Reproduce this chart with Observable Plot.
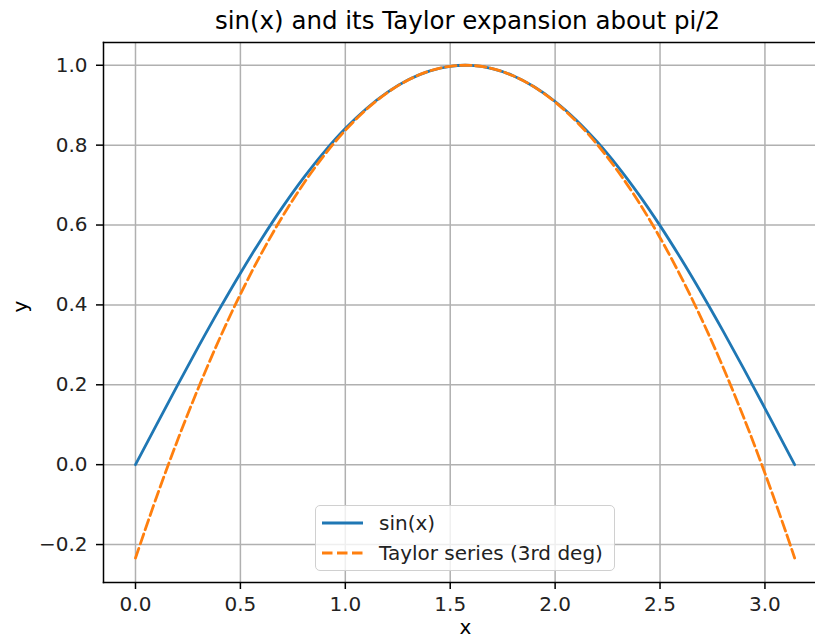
<!DOCTYPE html>
<html>
<head>
<meta charset="utf-8">
<script src="https://cdn.jsdelivr.net/npm/d3@7"></script>
<script src="https://cdn.jsdelivr.net/npm/@observablehq/plot@0.6"></script>
<style>
  html, body { margin: 0; padding: 0; background: #fff; overflow: hidden; }
  #wrap { position: relative; width: 815px; height: 640px; font-family: "DejaVu Sans", sans-serif; }
  #legend {
    position: absolute; left: 315px; top: 505px; width: 300px; height: 66px; box-sizing: border-box;
    background: rgba(255,255,255,0.8); border: 1px solid #d0d0d0; border-radius: 5px;
    font-size: 20px; color: #222;
  }
  .row { position: absolute; left: 0; height: 26px; display: flex; align-items: center; white-space: nowrap; }
  .row svg { margin-left: 6px; margin-right: 16px; }
</style>
</head>
<body>
<div id="wrap"></div>
<script>
const title = "sin(x) and its Taylor expansion about pi/2";
const xLabel = "x";
const yLabel = "y";
const seriesNames = ["sin(x)", "Taylor series (3rd deg)"];
const seriesColors = ["#1f77b4", "#ff7f0e"];
const xTicks = [0.0, 0.5, 1.0, 1.5, 2.0, 2.5, 3.0];
const yTicks = [-0.2, 0.0, 0.2, 0.4, 0.6, 0.8, 1.0];

const xs = [0.0, 0.1, 0.2, 0.3, 0.4, 0.5, 0.6, 0.7, 0.8, 0.9, 1.0, 1.1, 1.2, 1.3, 1.4, 1.5, 1.6,
            1.7, 1.8, 1.9, 2.0, 2.1, 2.2, 2.3, 2.4, 2.5, 2.6, 2.7, 2.8, 2.9, 3.0, 3.1, 3.1416];
const sinY = [0.0, 0.0998, 0.1987, 0.2955, 0.3894, 0.4794, 0.5646, 0.6442, 0.7174, 0.7833, 0.8415,
              0.8912, 0.9320, 0.9636, 0.9854, 0.9975, 0.9996, 0.9917, 0.9738, 0.9463, 0.9093,
              0.8632, 0.8085, 0.7457, 0.6755, 0.5985, 0.5155, 0.4274, 0.3350, 0.2392, 0.1411,
              0.0416, 0.0];
const taylorY = [-0.2337, -0.0816, 0.0605, 0.1925, 0.3146, 0.4267, 0.5288, 0.6209, 0.7029, 0.7750,
                 0.8371, 0.8892, 0.9313, 0.9633, 0.9854, 0.9975, 0.9996, 0.9917, 0.9737, 0.9458,
                 0.9079, 0.8600, 0.8021, 0.7341, 0.6562, 0.5683, 0.4704, 0.3625, 0.2445, 0.1166,
                 -0.0213, -0.1692, -0.2337];

const sinData = xs.map((x, i) => ({x, y: sinY[i]}));
const taylorData = xs.map((x, i) => ({x, y: taylorY[i]}));
const fmt = d => d.toFixed(1).replace("-", "\u2212");

const grid = {stroke: "#b0b0b0", strokeOpacity: 1, strokeWidth: 1.5};
const chart = Plot.plot({
  width: 815,
  height: 640,
  marginLeft: 103,
  marginRight: 0,
  marginTop: 42,
  marginBottom: 58,
  style: {fontFamily: "DejaVu Sans, sans-serif", fontSize: "20px", color: "#222", background: "#fff"},
  x: {domain: [-0.1525, 3.241], ticks: xTicks},
  y: {domain: [-0.295, 1.057], ticks: yTicks},
  marks: [
    Plot.gridX(xTicks, grid),
    Plot.gridY(yTicks, grid),
    Plot.line(sinData, {x: "x", y: "y", stroke: seriesColors[0], strokeWidth: 2.8, curve: "catmull-rom"}),
    Plot.line(taylorData, {x: "x", y: "y", stroke: seriesColors[1], strokeWidth: 2.8, strokeDasharray: "10.5,4.5", curve: "catmull-rom"}),
    Plot.axisX(xTicks, {tickSize: 7, tickPadding: 7, tickFormat: fmt, label: null, fontSize: 20, strokeWidth: 1.5, stroke: "#000"}),
    Plot.axisY(yTicks, {tickSize: 7, tickPadding: 9, tickFormat: fmt, label: null, fontSize: 20, strokeWidth: 1.5, stroke: "#000"}),
    Plot.frame({anchor: "left", stroke: "#000", strokeWidth: 1.5}),
    Plot.frame({anchor: "top", stroke: "#000", strokeWidth: 1.5}),
    Plot.frame({anchor: "bottom", stroke: "#000", strokeWidth: 1.5}),
    Plot.text([title], {frameAnchor: "top", lineAnchor: "middle", dx: 8, dy: -21, fontSize: 24.5, fill: "#000"}),
    Plot.text([xLabel], {frameAnchor: "bottom", lineAnchor: "middle", dx: 6, dy: 45, fontSize: 20, fill: "#000"}),
    Plot.text([yLabel], {frameAnchor: "left", dx: -83, rotate: -90, fontSize: 20, fill: "#000"})
  ]
});
const wrap = document.getElementById("wrap");
wrap.appendChild(chart);

const legend = document.createElement("div");
legend.id = "legend";
seriesNames.forEach((name, i) => {
  const row = document.createElement("div");
  row.className = "row";
  row.style.top = (4 + i * 30) + "px";
  const dash = i === 1 ? 'stroke-dasharray="10.5,4.5"' : "";
  row.innerHTML = `<svg width="41" height="10"><line x1="0" y1="5" x2="41" y2="5" stroke="${seriesColors[i]}" stroke-width="2.8" ${dash}/></svg><span>${name}</span>`;
  legend.appendChild(row);
});
wrap.appendChild(legend);
</script>
</body>
</html>
